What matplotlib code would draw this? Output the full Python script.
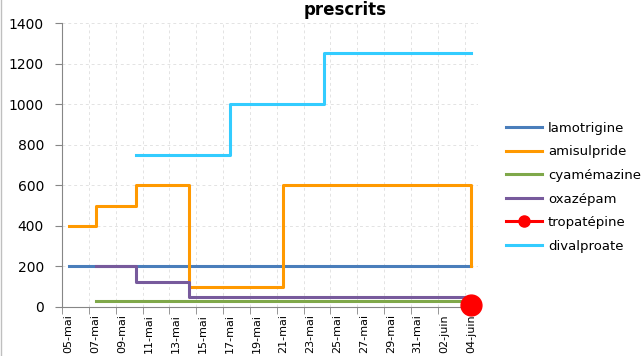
import numpy as np
import matplotlib
matplotlib.use("Agg")
import matplotlib.pyplot as plt
from matplotlib.lines import Line2D

# dates du 05-mai au 04-juin (31 jours), etiquettes tous les 2 jours
labels = ['05-mai', '07-mai', '09-mai', '11-mai', '13-mai', '15-mai', '17-mai', '19-mai',
          '21-mai', '23-mai', '25-mai', '27-mai', '29-mai', '31-mai', '02-juin', '04-juin']

# chaque serie : jours (0 = 05-mai) et doses, dessinees en escalier
lamo_j = [0, 30]
lamo_v = [200, 200]

amis_j = [0, 2, 5, 9, 16, 30]
amis_v = [400, 500, 600, 100, 600, 200]

cyam_j = [2, 30]
cyam_v = [30, 30]

oxaz_j = [2, 5, 9, 30]
oxaz_v = [200, 125, 50, 50]

trop_j = [30]
trop_v = [10]

dival_j = [5, 12, 19, 30]
dival_v = [750, 1000, 1250, 1250]

fig = plt.figure(figsize=(6.44, 3.56), dpi=100)
ax = fig.add_axes([62/644, 49/356, 416/644, 284/356])

ax.plot(lamo_j, lamo_v, drawstyle='steps-post', color='#4a7ebb', lw=2.2, label='lamotrigine')
ax.plot(amis_j, amis_v, drawstyle='steps-post', color='#ff9900', lw=2.2, label='amisulpride')
ax.plot(cyam_j, cyam_v, drawstyle='steps-post', color='#7fa84a', lw=2.2, label='cyamémazine')
ax.plot(oxaz_j, oxaz_v, drawstyle='steps-post', color='#775a9c', lw=2.2, label='oxazépam')
ax.plot(trop_j, trop_v, color='#ff0000', lw=2.2, marker='o', ms=15, clip_on=False, zorder=5,
        label='tropatépine')
ax.plot(dival_j, dival_v, drawstyle='steps-post', color='#33ccff', lw=2.2, label='divalproate')

ax.set_xlim(-0.5, 30.5)
ax.set_ylim(0, 1400)
ax.set_yticks(np.arange(0, 1401, 200))
ax.set_xticks(np.arange(0, 31, 2))
ax.set_xticklabels(labels, rotation=90, fontsize=8)
ax.set_xticks(np.arange(-0.5, 31, 2), minor=True)
ax.tick_params(axis='x', which='major', length=0, pad=5)
ax.tick_params(axis='x', which='minor', length=5, color='#868686')
ax.tick_params(axis='y', length=5, color='#868686', labelsize=10, pad=8)

ax.grid(axis='y', color='#e3e3e3', ls=(0, (3, 3)), lw=0.7)
ax.grid(axis='x', which='minor', color='#e3e3e3', ls=(0, (3, 3)), lw=0.7)
ax.set_axisbelow(True)
for s in ['top', 'right']:
    ax.spines[s].set_visible(False)
ax.spines['left'].set_color('#868686')
ax.spines['bottom'].set_color('#868686')

handles, labs = ax.get_legend_handles_labels()
handles[4] = Line2D([], [], color='#ff0000', lw=2.2, marker='o', ms=8)
fig.legend(handles, labs, loc='upper left', bbox_to_anchor=(494/644, 1 - 110/356),
           frameon=False, fontsize=9.5, handlelength=2.7, handletextpad=0.5,
           labelspacing=0.8)

# titre en haut de l'image
fig.text(345/644, 1 - 1/356, 'prescrits', ha='center', va='top', fontsize=12,
         fontweight='bold')

# bordure gauche du graphique
fig.add_artist(Line2D([0.5/644, 0.5/644], [0, 1], color='#bfbfbf', lw=1))

fig.savefig('out.png', dpi=100)
